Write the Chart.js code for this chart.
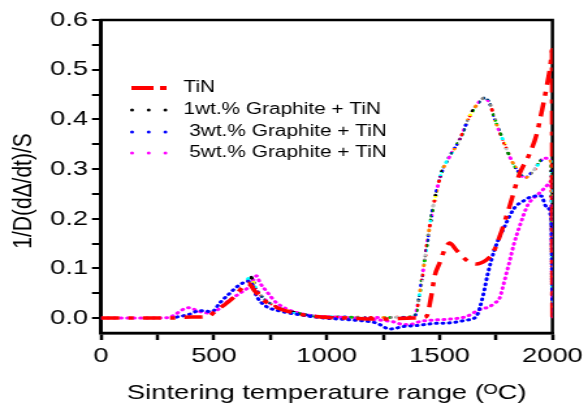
<!DOCTYPE html>
<html>
<head>
<meta charset="utf-8">
<script src="https://cdn.jsdelivr.net/npm/chart.js@4"></script>
<style>
  html, body { margin: 0; padding: 0; background: #fff; overflow: hidden; }
</style>
</head>
<body>
<canvas id="c" width="452" height="409" style="display:block;width:588px;height:409px;"></canvas>
<script>
// values
const tinX = [0, 100, 200, 300, 400, 475, 504, 541, 593, 630, 652, 680, 720, 780, 850, 950, 1100, 1250, 1382, 1441, 1463, 1478, 1500, 1522, 1544, 1574, 1618, 1662, 1707, 1736, 1766, 1810, 1854, 1898, 1930, 1950, 1972, 1994, 1998, 2000];
const tinY = [0, 0, 0, 0, 0.002, 0.003, 0.013, 0.025, 0.044, 0.064, 0.070, 0.055, 0.036, 0.021, 0.011, 0.003, 0.0, -0.002, 0.0, 0.003, 0.044, 0.084, 0.111, 0.137, 0.151, 0.137, 0.117, 0.109, 0.117, 0.131, 0.164, 0.225, 0.29, 0.33, 0.37, 0.41, 0.46, 0.52, 0.54, 0];

const wt1X = [650, 660, 690, 730, 780, 850, 950, 1100, 1250, 1350, 1389, 1412, 1434, 1456, 1478, 1508, 1544, 1589, 1633, 1677, 1699, 1721, 1751, 1780, 1817, 1854, 1876, 1913, 1965, 1994, 2000];
const wt1Y = [0.078, 0.084, 0.056, 0.036, 0.022, 0.012, 0.004, 0.002, 0.001, 0.002, 0.004, 0.050, 0.117, 0.184, 0.238, 0.292, 0.325, 0.359, 0.406, 0.436, 0.443, 0.433, 0.392, 0.359, 0.319, 0.292, 0.282, 0.295, 0.322, 0.315, 0];

const wt3X = [335, 386, 438, 490, 527, 563, 608, 652, 665, 689, 733, 777, 836, 969, 1116, 1220, 1279, 1300, 1338, 1397, 1471, 1559, 1620, 1662, 1692, 1714, 1743, 1795, 1832, 1869, 1913, 1950, 1972, 1994, 2000];
const wt3Y = [0.002, 0.007, 0.015, 0.013, 0.031, 0.047, 0.065, 0.074, 0.072, 0.044, 0.023, 0.016, 0.010, 0.001, -0.004, -0.010, -0.022, -0.021, -0.017, -0.015, -0.011, -0.009, -0.004, 0.003, 0.044, 0.090, 0.137, 0.191, 0.222, 0.235, 0.245, 0.246, 0.225, 0.201, 0];

const wt5X = [0, 100, 200, 300, 327, 386, 438, 482, 571, 615, 652, 680, 689, 704, 733, 777, 895, 1050, 1190, 1300, 1338, 1367, 1412, 1441, 1544, 1618, 1677, 1721, 1743, 1766, 1780, 1795, 1810, 1830, 1854, 1891, 1913, 1943, 1972, 1994, 2000];
const wt5Y = [0, 0, 0, 0.001, 0.007, 0.021, 0.013, 0.010, 0.037, 0.050, 0.062, 0.080, 0.085, 0.071, 0.054, 0.031, 0.008, 0.002, -0.002, -0.008, -0.013, -0.013, -0.007, -0.005, -0.002, 0.003, 0.017, 0.023, 0.030, 0.040, 0.062, 0.088, 0.114, 0.150, 0.184, 0.228, 0.240, 0.252, 0.265, 0.275, 0];

const seriesLabels = ['TiN', '1wt.% Graphite + TiN', ' 3wt.% Graphite + TiN', ' 5wt.% Graphite + TiN'];
const xTickValues = [0, 250, 500, 750, 1000, 1250, 1500, 1750, 2000];
const xLabelValues = [0, 500, 1000, 1500, 2000];
const yTickValues = [0, 0.05, 0.1, 0.15, 0.2, 0.25, 0.3, 0.35, 0.4, 0.45, 0.5, 0.55, 0.6];
const yLabelValues = [0, 0.1, 0.2, 0.3, 0.4, 0.5, 0.6];
const xTitle = 'Sintering temperature range (\u1D3CC)';
const yTitle = '1/D(d\u0394/dt)/S';

const FONT = '"Liberation Sans", Arial, sans-serif';

function toPoints(xs, ys) {
    return xs.map((x, i) => ({ x: x, y: ys[i] }));
}

const canvas = document.getElementById('c');
const ctx = canvas.getContext('2d');

// the 1wt.% curve is drawn with dots of many colours
const dotColors = ['#000000', '#ff0000', '#00c000', '#0000ff', '#ffff00', '#00ffff', '#ff00ff', '#808080', '#ff80c0', '#008000', '#800080', '#ff8000', '#c0c0c0', '#004080'];
const tile = document.createElement('canvas');
tile.width = 28;
tile.height = 28;
const tctx = tile.getContext('2d');
for (let i = 0; i < 7; i++) {
    for (let j = 0; j < 7; j++) {
        tctx.fillStyle = dotColors[(i * 3 + j * 5 + i * j) % dotColors.length];
        tctx.fillRect(i * 4, j * 4, 4, 4);
    }
}
const rainbow = ctx.createPattern(tile, 'repeat');

const frameAndTitle = {
    id: 'frameAndTitle',
    beforeDatasetsDraw(chart) {
        const a = chart.chartArea;
        const c = chart.ctx;
        c.save();
        c.strokeStyle = '#000';
        c.lineWidth = 2.5;
        c.strokeRect(a.left, a.top, a.right - a.left, a.bottom - a.top);
        c.restore();
    },
    afterDraw(chart) {
        const c = chart.ctx;
        c.save();
        // y axis title
        c.translate(18.5, 191);
        c.rotate(-Math.PI / 2);
        c.font = '21px ' + FONT;
        c.fillStyle = '#000';
        c.textAlign = 'center';
        c.textBaseline = 'middle';
        c.fillText(yTitle, 0, 0);
        c.restore();

        // legend inside the plot
        const rows = [88, 110, 132, 153];
        const legendDots = [null, '#000000', '#0000ff', '#ff00ff'];
        c.save();
        c.font = '16px ' + FONT;
        c.textBaseline = 'middle';
        c.textAlign = 'left';
        seriesLabels.forEach((lab, i) => {
            const y = rows[i];
            if (i === 0) {
                c.strokeStyle = '#ff0000';
                c.lineWidth = 4;
                c.beginPath();
                c.moveTo(101, y); c.lineTo(118, y);
                c.moveTo(123, y); c.lineTo(128, y);
                c.stroke();
            } else {
                c.fillStyle = legendDots[i];
                for (let k = 0; k < 3; k++) {
                    c.beginPath();
                    c.arc(101.5 + k * 12.8, y, 1.5, 0, 2 * Math.PI);
                    c.fill();
                }
            }
            c.fillStyle = '#000';
            c.fillText(lab, 141, y);
        });
        c.restore();
    }
};

const dotted = {
    borderWidth: 3,
    borderDash: [0.8, 4.2],
    borderCapStyle: 'round',
    pointRadius: 0,
    fill: false,
    cubicInterpolationMode: 'monotone'
};

new Chart(ctx, {
    type: 'line',
    data: {
        datasets: [
            {
                label: seriesLabels[0],
                data: toPoints(tinX, tinY),
                borderColor: '#ff0000',
                borderWidth: 3.5,
                borderDash: [14, 7, 4, 7],
                pointRadius: 0,
                fill: false,
                cubicInterpolationMode: 'monotone',
                order: 0
            },
            Object.assign({ label: seriesLabels[1], data: toPoints(wt1X, wt1Y), borderColor: rainbow, order: 2 }, dotted),
            Object.assign({ label: seriesLabels[2], data: toPoints(wt3X, wt3Y), borderColor: '#0000ff', order: 1 }, dotted),
            Object.assign({ label: seriesLabels[3], data: toPoints(wt5X, wt5Y), borderColor: '#ff00ff', order: 3 }, dotted)
        ]
    },
    options: {
        responsive: false,
        animation: false,
        devicePixelRatio: 1,
        layout: { padding: { left: 0, right: 26.6, top: 20, bottom: 0 } },
        scales: {
            x: {
                type: 'linear',
                min: 0,
                max: 2000,
                afterBuildTicks: s => { s.ticks = xTickValues.map(v => ({ value: v })); },
                afterFit: s => { s.height = 76; },
                ticks: {
                    autoSkip: false,
                    maxRotation: 0,
                    padding: 4,
                    color: '#000',
                    font: { size: 21, family: FONT },
                    callback: v => xLabelValues.includes(v) ? String(v) : ''
                },
                grid: { drawOnChartArea: false, drawTicks: true, tickLength: 7, color: '#000', tickColor: '#000', lineWidth: 2, tickWidth: 2.5 },
                border: { display: true, color: '#000', width: 2.5 },
                title: { display: true, text: xTitle, color: '#000', font: { size: 21, family: FONT }, padding: { top: 0, bottom: 3 } }
            },
            y: {
                type: 'linear',
                min: -0.03,
                max: 0.6,
                afterBuildTicks: s => { s.ticks = yTickValues.map(v => ({ value: v })); },
                afterFit: s => { s.width = 77.7; },
                ticks: {
                    autoSkip: false,
                    padding: 3,
                    color: '#000',
                    font: { size: 21, family: FONT },
                    callback: v => yLabelValues.some(l => Math.abs(l - v) < 1e-9) ? v.toFixed(1) : ''
                },
                grid: { drawOnChartArea: false, drawTicks: true, tickLength: 7, color: '#000', tickColor: '#000', lineWidth: 2, tickWidth: 2 },
                border: { display: true, color: '#000', width: 2.5 }
            }
        },
        plugins: {
            legend: { display: false },
            tooltip: { enabled: false }
        }
    },
    plugins: [frameAndTitle]
});
</script>
</body>
</html>
